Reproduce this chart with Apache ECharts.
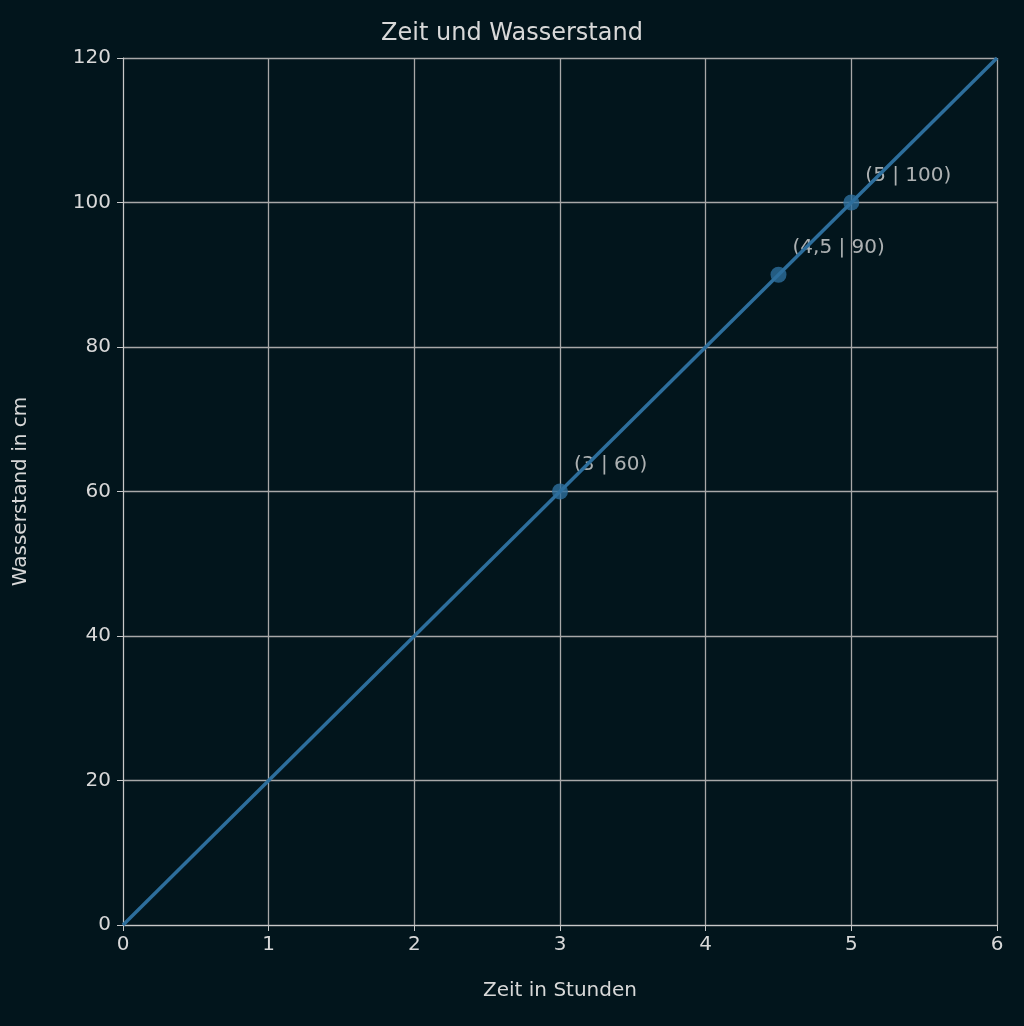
<!DOCTYPE html><html><head><meta charset="utf-8"><script src="https://cdn.jsdelivr.net/npm/echarts@6/dist/echarts.min.js"></script></head><body style="margin:0;background:#02151c"><div id="c" style="width:1024px;height:1026px"></div><script>
const lineX=[0,6], lineY=[0,120];
const ptX=[3,4.5,5], ptY=[60,90,100], ptLabels=['(3 | 60)','(4,5 | 90)','(5 | 100)'];
const xTicks=[0,1,2,3,4,5,6], yTicks=[0,20,40,60,80,100,120];
const ch=echarts.init(document.getElementById('c'));
const txt='#d8d8d8', f='DejaVu Sans';
ch.setOption({backgroundColor:'#02151c',animation:false,
title:{text:'Zeit und Wasserstand',left:'center',top:17,textStyle:{color:txt,fontFamily:f,fontSize:24,fontWeight:'normal'}},
grid:{left:123,right:27,top:58,bottom:101},
xAxis:{type:'value',min:0,max:6,interval:1,name:'Zeit in Stunden',nameLocation:'middle',nameGap:56,nameTextStyle:{color:txt,fontFamily:f,fontSize:20},
axisLine:{lineStyle:{color:'#c8c8c8'}},axisTick:{show:true,length:6,lineStyle:{color:'#c8c8c8'}},axisLabel:{color:txt,fontFamily:f,fontSize:20,margin:10},splitLine:{lineStyle:{color:'#a8a8a8',width:1.3}}},
yAxis:{type:'value',min:0,max:120,interval:20,name:'Wasserstand in cm',nameLocation:'middle',nameGap:92,nameTextStyle:{color:txt,fontFamily:f,fontSize:20},
axisLine:{show:true,lineStyle:{color:'#c8c8c8'}},axisTick:{show:true,length:6,lineStyle:{color:'#c8c8c8'}},axisLabel:{color:txt,fontFamily:f,fontSize:20,margin:12},splitLine:{lineStyle:{color:'#a8a8a8',width:1.3}}},
series:[{type:'line',data:lineX.map((x,i)=>[x,lineY[i]]),showSymbol:false,lineStyle:{color:'#2d6e9c',width:3.5}},
{type:'scatter',symbolSize:16,itemStyle:{color:'#2d6e9c'},data:ptX.map((x,i)=>[x,ptY[i]]),
label:{show:true,formatter:p=>ptLabels[p.dataIndex],position:'right',offset:[6,-27],distance:0,color:txt,fontFamily:f,fontSize:20}}]
});
</script></body></html>
